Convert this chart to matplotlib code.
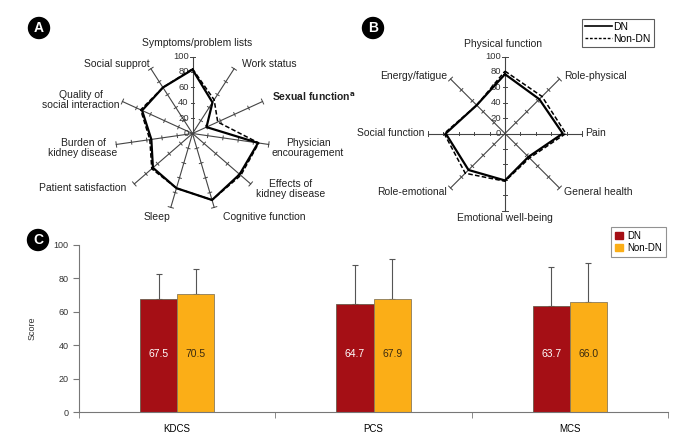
import numpy as np
import matplotlib.pyplot as plt
from matplotlib.patches import Ellipse

plt.rcParams["font.family"] = ["Liberation Sans", "DejaVu Sans"]

# Panel A: KDQOL kidney disease specific domains
kd_labels = ["Symptoms/problem lists", "Work status", "Sexual function", "Physician\nencouragement",
             "Effects of\nkidney disease", "Cognitive function", "Sleep", "Patient satisfaction",
             "Burden of\nkidney disease", "Quality of\nsocial interaction", "Social supprot"]
kd_dn = [83, 48, 20, 86, 81, 90, 74, 68, 54, 72, 71]
kd_non_dn = [84, 52, 36, 87, 83, 90, 74, 70, 56, 74, 71]

# Panel B: SF-36 domains
sf_labels = ["Physical function", "Role-physical", "Pain", "General health",
             "Emotional well-being", "Role-emotional", "Social function", "Energy/fatigue"]
sf_dn = [77, 63, 75, 43, 61, 67, 77, 52]
sf_non_dn = [81, 68, 79, 45, 62, 73, 79, 52]

# Panel C: summary scores
groups = ["KDCS", "PCS", "MCS"]
bar_dn = [67.5, 64.7, 63.7]
bar_non_dn = [70.5, 67.9, 66.0]
sd_dn = [15.0, 23.3, 23.2]
sd_non_dn = [15.3, 24.0, 23.0]

W, H = 692, 438
fig = plt.figure(figsize=(W / 100, H / 100), dpi=100)

PX = 0.77  # pixels per radar unit


def radar_axes(cx, cy, left, right, top, bottom):
    ax = fig.add_axes([left / W, 1 - bottom / H, (right - left) / W, (bottom - top) / H])
    ax.set_xlim((left - cx) / PX, (right - cx) / PX)
    ax.set_ylim((cy - bottom) / PX, (cy - top) / PX)
    ax.axis("off")
    return ax


def draw_radar(ax, n, dn, non_dn):
    ang = np.arange(n) * 2 * np.pi / n
    for a in ang:
        ux, uy = np.sin(a), np.cos(a)
        ax.plot([0, 100 * ux], [0, 100 * uy], color="#444444", lw=0.8, zorder=1)
        for r in range(20, 101, 20):
            t = 3.5 if r == 100 else 2.5
            px, py = r * ux, r * uy
            ax.plot([px - t * uy, px + t * uy], [py + t * ux, py - t * ux],
                    color="#444444", lw=0.7, zorder=1)
    for r in range(0, 101, 20):
        ax.text(-5, r, str(r), ha="right", va="center", fontsize=6.8, color="#333333")
    for vals, ls in [(non_dn, (0, (3, 1.5))), (dn, "-")]:
        v = np.array(vals + vals[:1], dtype=float)
        a = np.append(ang, ang[0])
        ax.plot(v * np.sin(a), v * np.cos(a), color="black", lw=1.6 if ls == "-" else 1.1,
                ls=ls, zorder=3)


def label(ax, cx, cy, x, y, s, ha="center", **kw):
    ax.text((x - cx) / PX, (cy - y) / PX, s, ha=ha, va="center", fontsize=7.5,
            color="#222222", linespacing=1.0, **kw)


def panel_letter(x, y, s):
    fig.patches.append(Ellipse((x / W, 1 - y / H), 21 / W, 21 / H, transform=fig.transFigure,
                               color="black", zorder=5))
    fig.text(x / W, 1 - y / H, s, ha="center", va="center", color="white",
             fontsize=10, fontweight="bold", zorder=6)


# ---- Panel A
cxA, cyA = 192.5, 133.5
axA = radar_axes(cxA, cyA, 0, 346, 0, 226)
draw_radar(axA, 11, kd_dn, kd_non_dn)
label(axA, cxA, cyA, 197, 43, kd_labels[0])
label(axA, cxA, cyA, 242, 64, kd_labels[1], ha="left")
label(axA, cxA, cyA, 272, 97, r"Sexual function$^{\mathbf{a}}$", ha="left", fontweight="bold")
label(axA, cxA, cyA, 308, 148, kd_labels[3])
label(axA, cxA, cyA, 291, 189, kd_labels[4])
label(axA, cxA, cyA, 264, 217, kd_labels[5])
label(axA, cxA, cyA, 157, 217, kd_labels[6])
label(axA, cxA, cyA, 83, 188, kd_labels[7])
label(axA, cxA, cyA, 83, 148, kd_labels[8])
label(axA, cxA, cyA, 81, 100, kd_labels[9])
label(axA, cxA, cyA, 117, 64, kd_labels[10])
panel_letter(39, 28, "A")

# ---- Panel B
cxB, cyB = 505, 133.5
axB = radar_axes(cxB, cyB, 346, 692, 0, 226)
draw_radar(axB, 8, sf_dn, sf_non_dn)
label(axB, cxB, cyB, 503, 44, sf_labels[0])
label(axB, cxB, cyB, 564, 76, sf_labels[1], ha="left")
label(axB, cxB, cyB, 585, 133, sf_labels[2], ha="left")
label(axB, cxB, cyB, 564, 192, sf_labels[3], ha="left")
label(axB, cxB, cyB, 505, 218, sf_labels[4])
label(axB, cxB, cyB, 447, 192, sf_labels[5], ha="right")
label(axB, cxB, cyB, 424, 133, sf_labels[6], ha="right")
label(axB, cxB, cyB, 447, 76, sf_labels[7], ha="right")
panel_letter(373, 28, "B")

lh = [plt.Line2D([], [], color="black", lw=1.2),
      plt.Line2D([], [], color="black", lw=1.0, ls=(0, (2, 1.2)))]
legB = fig.legend(lh, ["DN", "Non-DN"], loc="upper left", bbox_to_anchor=(582 / W, 1 - 19 / H),
                  fontsize=7.5, frameon=True, fancybox=False, handlelength=2.6,
                  handletextpad=0.1, borderpad=0.3, labelspacing=0.15, borderaxespad=0)
legB.get_frame().set_edgecolor("#333333")
legB.get_frame().set_linewidth(0.8)

# ---- Panel C
axC = fig.add_axes([79 / W, 1 - 412 / H, (668 - 79) / W, (412 - 245) / H])
x = np.arange(len(groups))
bw = 0.19
red, orange = "#A50F15", "#FBAE17"
axC.bar(x - bw / 2, bar_dn, bw, color=red, edgecolor="#6b5a4a", lw=0.6, zorder=2)
axC.bar(x + bw / 2, bar_non_dn, bw, color=orange, edgecolor="#8a7a5a", lw=0.6, zorder=2)
axC.errorbar(x - bw / 2, bar_dn, yerr=[np.zeros(3), sd_dn], fmt="none", ecolor="#555555",
             elinewidth=0.8, capsize=2.5, capthick=0.8, zorder=1)
axC.errorbar(x + bw / 2, bar_non_dn, yerr=[np.zeros(3), sd_non_dn], fmt="none", ecolor="#555555",
             elinewidth=0.8, capsize=2.5, capthick=0.8, zorder=1)
for i in range(len(groups)):
    axC.text(x[i] - bw / 2, 35, f"{bar_dn[i]:.1f}", ha="center", va="center", fontsize=7.5,
             color="white")
    axC.text(x[i] + bw / 2, 35, f"{bar_non_dn[i]:.1f}", ha="center", va="center", fontsize=7.5,
             color="#3a2a10")
axC.set_xlim(-0.5, 2.5)
axC.set_ylim(0, 100)
axC.set_yticks(range(0, 101, 20))
axC.set_xticks(x)
axC.set_xticklabels(groups)
axC.set_xticks([-0.5, 0.5, 1.5, 2.5], minor=True)
axC.tick_params(axis="x", which="major", length=0, labelsize=7, pad=9)
axC.tick_params(axis="x", which="minor", length=4, color="#777777", direction="out")
axC.tick_params(axis="y", labelsize=6.5, length=4, color="#777777", colors="#333333")
axC.spines["top"].set_visible(False)
axC.spines["right"].set_visible(False)
for s in ("left", "bottom"):
    axC.spines[s].set_color("#777777")
    axC.spines[s].set_linewidth(0.8)
axC.set_ylabel("Score", fontsize=6.5, labelpad=12, color="#333333")
panel_letter(38, 240, "C")

hC = [plt.Rectangle((0, 0), 1, 1, color=red), plt.Rectangle((0, 0), 1, 1, color=orange)]
legC = fig.legend(hC, ["DN", "Non-DN"], loc="upper left", bbox_to_anchor=(611 / W, 1 - 227 / H),
                  fontsize=7, frameon=True, fancybox=False, handlelength=0.8, handleheight=0.8,
                  handletextpad=0.5, borderpad=0.4, labelspacing=0.2, borderaxespad=0)
legC.get_frame().set_edgecolor("#777777")
legC.get_frame().set_linewidth(0.8)

fig.savefig("out.png", dpi=100)
